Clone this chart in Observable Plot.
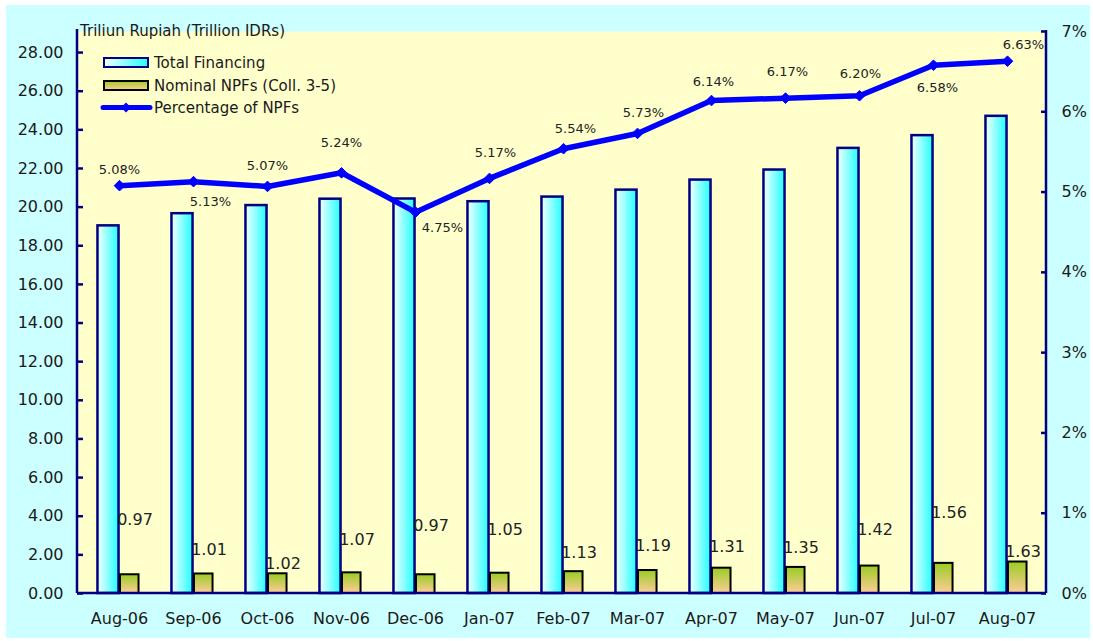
<!DOCTYPE html>
<html><head><meta charset="utf-8">
<script src="https://cdn.jsdelivr.net/npm/d3@7"></script>
<script src="https://cdn.jsdelivr.net/npm/@observablehq/plot@0.6"></script>
<style>html,body{margin:0;padding:0;background:#fff;} svg{display:block}</style>
</head><body><div id="chart"></div>
<script>
// ---- data ----
const months = ["Aug-06","Sep-06","Oct-06","Nov-06","Dec-06","Jan-07","Feb-07","Mar-07","Apr-07","May-07","Jun-07","Jul-07","Aug-07"];
const totalFinancing = [19.03, 19.66, 20.08, 20.41, 20.42, 20.28, 20.52, 20.88, 21.40, 21.92, 23.04, 23.70, 24.70];
const nominalNPF = [0.97, 1.01, 1.02, 1.07, 0.97, 1.05, 1.13, 1.19, 1.31, 1.35, 1.42, 1.56, 1.63];
const pctNPF = [5.08, 5.13, 5.07, 5.24, 4.75, 5.17, 5.54, 5.73, 6.14, 6.17, 6.20, 6.58, 6.63];
const leftTicks = [0,2,4,6,8,10,12,14,16,18,20,22,24,26,28];
const rightTicks = [0,1,2,3,4,5,6,7];
const yTitle = "Triliun Rupiah (Trillion IDRs)";
const legendLabels = ["Total Financing", "Nominal NPFs (Coll. 3-5)", "Percentage of NPFs"];

// ---- label placement (px offsets) ----
const pctLabelOffset = [[0,-16],[17,20],[0,-21],[0,-30],[27,16],[6,-26],[12,-20],[6,-21],[2,-19],[2,-26],[1,-22],[4,23],[16,-16]];
const npfLabelOffset = [-55,-24,-10,-33,-49,-43,-19,-25,-21,-20,-36,-50,-10];

// ---- layout ----
const W = 1093, H = 641, mL = 77, mR = 47, mT = 31, mB = 48;
const yMax = 29.09;
const k = yMax / 7;           // 1% expressed in left-axis units
const innerW = W - mL - mR;
const xRange = [75.5, 1049.5];
const half = (xRange[1] - xRange[0]) / months.length / 2;
const navy = "#000080";
const font = "DejaVu Sans";

const data = months.map((m, i) => ({month: m, total: totalFinancing[i], npf: nominalNPF[i], pct: pctNPF[i], i}));

function background(index, scales, values, dims) {
  const g = d3.create("svg:g");
  const defs = g.append("defs");
  const gt = defs.append("linearGradient").attr("id", "gTotal").attr("x1", 0).attr("x2", 1).attr("y1", 0).attr("y2", 0);
  gt.append("stop").attr("offset", "0%").attr("stop-color", "#F4FFFF");
  gt.append("stop").attr("offset", "100%").attr("stop-color", "#22FFFF");
  const gn = defs.append("linearGradient").attr("id", "gNpf").attr("x1", 0).attr("x2", 0).attr("y1", 0).attr("y2", 1);
  gn.append("stop").attr("offset", "0%").attr("stop-color", "#99CC22");
  gn.append("stop").attr("offset", "100%").attr("stop-color", "#FFCC99");
  g.append("rect").attr("x", 6).attr("y", 5).attr("width", dims.width - 9).attr("height", dims.height - 8).attr("fill", "#CCFFFF");
  return g.node();
}

function axisLines(index, scales, values, dims) {
  const g = d3.create("svg:g").attr("stroke", navy).attr("stroke-width", 2.5).attr("fill", "none");
  const l = dims.marginLeft, r = dims.width - dims.marginRight, b = dims.height - dims.marginBottom, t = dims.marginTop;
  g.append("line").attr("x1", l).attr("x2", l).attr("y1", t - 2).attr("y2", b);
  g.append("line").attr("x1", r).attr("x2", r).attr("y1", t - 1).attr("y2", b);
  g.append("line").attr("x1", l).attr("x2", r).attr("y1", b).attr("y2", b);
  return g.node();
}

function legend(index, scales, values, dims) {
  const g = d3.create("svg:g").attr("font-family", font).attr("font-size", 15).attr("fill", "#1a1a1a").attr("text-anchor", "start");
  const x0 = dims.marginLeft + 27;
  g.append("rect").attr("x", x0).attr("y", 58).attr("width", 44).attr("height", 9).attr("fill", "url(#gTotal)").attr("stroke", navy).attr("stroke-width", 2);
  g.append("rect").attr("x", x0).attr("y", 81).attr("width", 44).attr("height", 9).attr("fill", "url(#gNpf)").attr("stroke", "#000").attr("stroke-width", 2);
  g.append("line").attr("x1", x0 - 1).attr("x2", x0 + 46).attr("y1", 107.5).attr("y2", 107.5).attr("stroke", "#0000FF").attr("stroke-width", 5).attr("stroke-linecap", "round");
  g.append("path").attr("d", d3.symbol(d3.symbolDiamond2, 64)()).attr("transform", `translate(${x0 + 22},107.5)`).attr("fill", "#0000FF");
  const ys = [63, 85.5, 108];
  legendLabels.forEach((s, i) => g.append("text").attr("x", x0 + 50).attr("y", ys[i]).attr("dy", "0.35em").attr("text-anchor", "start").text(s));
  g.append("text").attr("x", dims.marginLeft + 3).attr("y", 31).attr("dy", "0.35em").attr("text-anchor", "start").attr("font-size", 15).text(yTitle);
  return g.node();
}

const pctLabels = data.map((d, i) => Plot.text([d], {
  x: "month", y: d => d.pct * k, text: d => d.pct.toFixed(2) + "%",
  dx: pctLabelOffset[i][0], dy: pctLabelOffset[i][1], fontSize: 13, fill: "#222"
}));
const npfLabels = data.map((d, i) => Plot.text([d], {
  x: "month", y: "npf", text: d => d.npf.toFixed(2),
  dx: 15.5, dy: npfLabelOffset[i], fontSize: 16, fill: "#222"
}));

const chart = Plot.plot({
  width: W, height: H,
  marginLeft: mL, marginRight: mR, marginTop: mT, marginBottom: mB,
  style: {fontFamily: font, fontSize: "16px", color: "#1a1a1a", background: "#fff"},
  x: {domain: months, padding: 0, range: xRange, axis: null},
  y: {domain: [0, yMax], axis: null},
  marks: [
    background,
    Plot.frame({fill: "#FFFFCC", stroke: "none"}),
    Plot.barY(data, {x: "month", y: "total", fill: "url(#gTotal)", stroke: navy, strokeWidth: 2.5,
      insetLeft: half - 22, insetRight: half}),
    Plot.barY(data, {x: "month", y: "npf", fill: "url(#gNpf)", stroke: "#000", strokeWidth: 2,
      insetLeft: half + 0.5, insetRight: half - 20}),
    Plot.line(data, {x: "month", y: d => d.pct * k, stroke: "#0000FF", strokeWidth: 5.5, strokeLinejoin: "round"}),
    Plot.dot(data, {x: "month", y: d => d.pct * k, symbol: "diamond2", r: 4.8, fill: "#0000FF", stroke: "#0000FF", strokeWidth: 1}),
    ...pctLabels,
    ...npfLabels,
    Plot.axisX({tickSize: 0, tickPadding: 19, fontSize: 16, label: null}),
    Plot.axisY({anchor: "left", ticks: leftTicks, tickFormat: d => d.toFixed(2), tickSize: 0, tickPadding: 14, fontSize: 16, label: null}),
    Plot.axisY({anchor: "right", ticks: rightTicks.map(t => t * k), tickFormat: d => Math.round(d / k) + "%", tickSize: 0, tickPadding: 15, fontSize: 16, label: null}),
    Plot.tickY(leftTicks, {y: d => d, insetRight: innerW - 6, stroke: navy, strokeWidth: 2.5}),
    Plot.tickY(rightTicks, {y: d => d * k, insetLeft: innerW - 5, stroke: navy, strokeWidth: 2.5}),
    axisLines,
    legend
  ]
});
document.getElementById("chart").appendChild(chart);
</script>
</body></html>
